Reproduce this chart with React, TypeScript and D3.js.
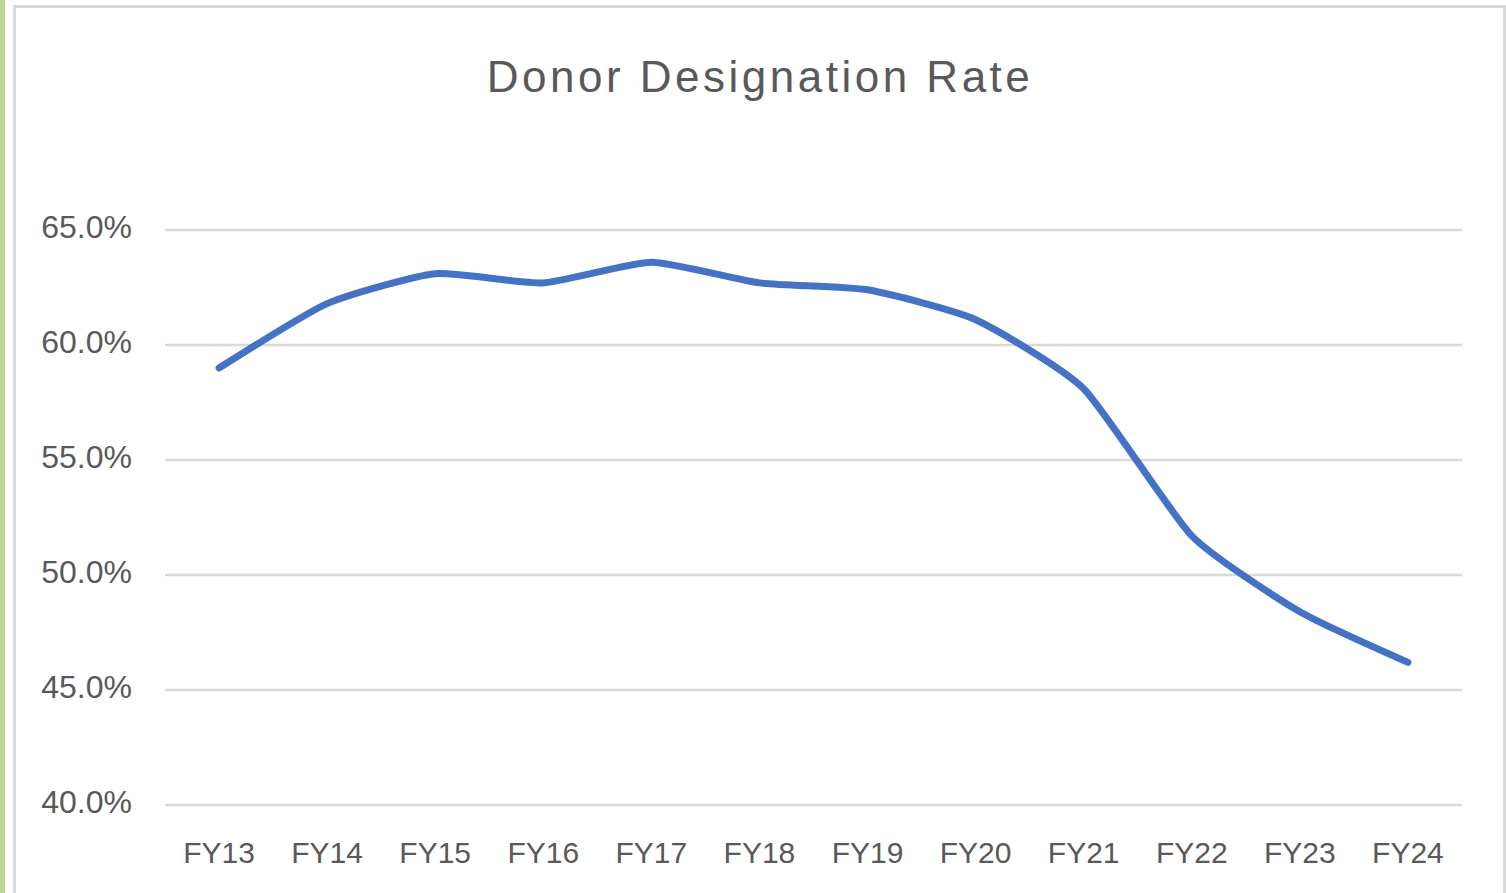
import React from 'react';
import * as d3 from 'd3';

const categories = ['FY13', 'FY14', 'FY15', 'FY16', 'FY17', 'FY18', 'FY19', 'FY20', 'FY21', 'FY22', 'FY23', 'FY24'];
const rates = [59.0, 61.8, 63.1, 62.7, 63.6, 62.7, 62.4, 61.1, 58.1, 51.7, 48.4, 46.2];
const yTicks = [40, 45, 50, 55, 60, 65];

const W = 1506;
const H = 893;

const App = () => {
  const margin = { top: 230, right: 44, bottom: 88, left: 165 };

  const x = d3
    .scaleBand()
    .domain(categories)
    .range([margin.left, W - margin.right]);

  const y = d3
    .scaleLinear()
    .domain([40, 65])
    .range([H - margin.bottom, margin.top]);

  const line = d3
    .line<number>()
    .x((d, i) => x(categories[i]) + x.bandwidth() / 2)
    .y((d) => y(d))
    .curve(d3.curveCardinal.tension(0.45));

  const textColor = '#595959';

  return (
    <svg
      width={W}
      height={H}
      style={{ position: 'absolute', left: 0, top: 0, background: '#fff', fontFamily: '"Liberation Sans", Arial, sans-serif' }}
    >
      {/* side strip + chart frame */}
      <rect x={0} y={0} width={5} height={H} fill="#bcd88f" />
      <rect x={14.5} y={6.5} width={W - 16} height={H + 10} fill="none" stroke="#d9d9d9" strokeWidth={3} />

      <text
        x={760}
        y={92}
        textAnchor="middle"
        fontSize={44}
        letterSpacing={3.5}
        fill={textColor}
      >
        Donor Designation Rate
      </text>

      {/* gridlines */}
      {yTicks.map((t) => (
        <line
          key={'g' + t}
          x1={margin.left}
          x2={W - margin.right}
          y1={y(t)}
          y2={y(t)}
          stroke="#d9d9d9"
          strokeWidth={2.5}
        />
      ))}

      {/* y tick labels */}
      {yTicks.map((t) => (
        <text
          key={'t' + t}
          x={132}
          y={y(t)}
          dy="0.26em"
          textAnchor="end"
          fontSize={32}
          fill={textColor}
        >
          {t.toFixed(1) + '%'}
        </text>
      ))}

      {/* x labels */}
      {categories.map((c) => (
        <text
          key={c}
          x={x(c) + x.bandwidth() / 2}
          y={863}
          textAnchor="middle"
          fontSize={30}
          fill={textColor}
        >
          {c}
        </text>
      ))}

      <path
        d={line(rates)}
        fill="none"
        stroke="#4472c4"
        strokeWidth={7}
        strokeLinecap="round"
        strokeLinejoin="round"
      />
    </svg>
  );
};

export default App;
